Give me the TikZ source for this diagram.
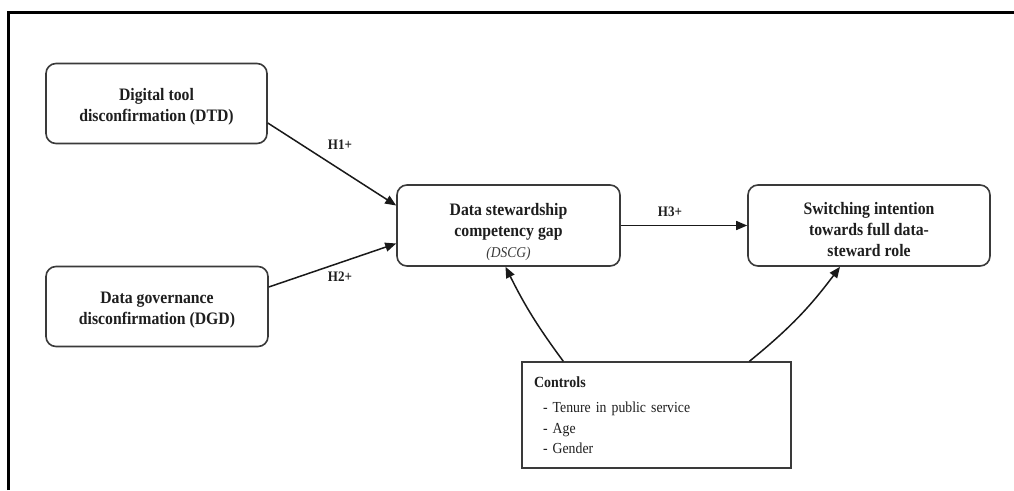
\documentclass[tikz,border=0pt]{standalone}
\usepackage{fontspec}
\setmainfont[FakeStretch=0.9]{Liberation Serif}
\usetikzlibrary{arrows.meta,calc}
\definecolor{boxline}{HTML}{3A3A3A}
\definecolor{txt}{HTML}{1E1E1E}
\tikzset{
  construct/.style={draw=boxline, line width=1.6pt, rounded corners=10pt, align=center,
    text=txt, inner sep=2pt, text depth=4pt, font=\fontsize{17.5}{21}\selectfont\bfseries},
  ctrlbox/.style={draw=boxline, line width=1.3pt, align=left, text=txt, inner sep=0pt,
    font=\fontsize{15.3}{20.5}\selectfont},
  arr/.style={draw=black!90, line width=1.5pt, -{Triangle[length=11pt,width=9pt]}},
  hyp/.style={text=txt, font=\fontsize{14.5}{16}\selectfont\bfseries, inner sep=1pt},
}
\begin{document}
\begin{tikzpicture}[x=1pt,y=-1pt]
\useasboundingbox (0,0) rectangle (1014,490);
\fill[white] (0,0) rectangle (1014,490);
\draw[line width=3pt, black] (8,490) -- (8,12) -- (1014,12);

\node[construct, minimum width=221pt, minimum height=80pt, text height=39pt] (dtd) at (156.5,103.5)
  {Digital tool\\disconfirmation (DTD)};
\node[construct, minimum width=222pt, minimum height=80pt, text height=39pt] (dgd) at (157,306.5)
  {Data governance\\disconfirmation (DGD)};
\node[construct, minimum width=223pt, minimum height=81pt, text height=68pt] (dscg) at (508.5,225.5)
  {Data stewardship\\competency gap\\{\fontsize{15}{21}\selectfont\mdseries\itshape\color{boxline}(DSCG)}};
\node[construct, minimum width=242pt, minimum height=81pt, text height=65pt] (sw) at (869,225.5)
  {Switching intention\\towards full data-\\steward role};
\node[ctrlbox, minimum width=269pt, minimum height=106pt, text width=245pt] (ctrl) at (656.5,415)
  {{\bfseries\fontsize{15.5}{20}\selectfont Controls}\\[5pt]
   \hspace*{9pt}- Tenure in public service\\
   \hspace*{9pt}- Age\\
   \hspace*{9pt}- Gender};

\node[hyp] (h1) at (340,145) {H1+};
\node[hyp] (h2) at (340,277) {H2+};
\node[hyp] (h3) at (670,212) {H3+};

\draw[arr] ($(dtd.east)+(0,19.5)$) -- ($(dscg.west)+(0,-20)$);
\draw[arr] ($(dgd.east)+(0,-19.5)$) -- ($(dscg.west)+(0,18)$);
\draw[arr] (dscg.east) -- (sw.west);

\draw[arr] ($(ctrl.north west)+(42,0)$) to[bend left=5] ($(dscg.south)+(-3,0)$);
\draw[arr] ($(ctrl.north west)+(228,0)$) to[bend right=7] ($(sw.south)+(-29,0)$);
\end{tikzpicture}
\end{document}
